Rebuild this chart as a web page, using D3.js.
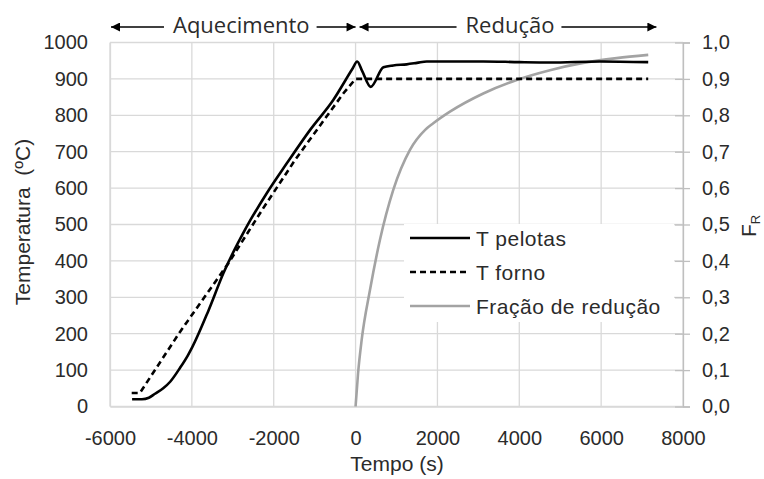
<!DOCTYPE html>
<html>
<head>
<meta charset="utf-8">
<script src="https://cdn.jsdelivr.net/npm/d3@7"></script>
<style>
  body { margin: 0; background: #fff; }
  text { font-family: "Liberation Sans", Arial, sans-serif; fill: #2b2b2b; }
</style>
</head>
<body>
<svg id="chart" width="764" height="479"></svg>
<script>
// Pellet temperature (ºC) over time (s)
const pelotasTempo = [-5460, -5220, -5050, -4900, -4700, -4530, -4290, -4100, -3990, -3600, -3230, -2660, -2170, -1680, -1110, -545, -80, 40, 160, 370, 680, 920, 1250, 1500, 1740, 2500, 3120, 4000, 4750, 5970, 7150];
const pelotasTemp  = [20, 20, 24, 35, 50, 68, 106, 140, 163, 262, 366, 494, 586, 668, 760, 842, 927, 948, 922, 878, 932, 937, 940, 944, 948, 948, 948, 946, 945, 948, 946];

// Furnace temperature (ºC)
const fornoTempo = [-5470, -5270, -4290, -3110, -2255, -1480, -300, 0, 7150];
const fornoTemp  = [37, 37, 205, 393, 545, 677, 860, 900, 900];

// Reduction fraction F_R
const fracaoTempo = [0, 60, 149, 352, 596, 921, 1329, 1700, 1898, 2306, 3120, 3935, 4749, 5563, 6379, 7151];
const fracaoValor = [0, 0.09, 0.183, 0.32, 0.458, 0.595, 0.705, 0.76, 0.778, 0.81, 0.86, 0.897, 0.924, 0.944, 0.957, 0.966];

// Axis ticks
const xTicks = [-6000, -4000, -2000, 0, 2000, 4000, 6000, 8000];
const yTicks = [0, 100, 200, 300, 400, 500, 600, 700, 800, 900, 1000];
const fTicks = [0, 0.1, 0.2, 0.3, 0.4, 0.5, 0.6, 0.7, 0.8, 0.9, 1.0];

// Process phases shown above the plot
const fases = ["Aquecimento", "Redução"];
const faseInicio = [-6000, 0];
const faseFim = [0, 7350];

// Legend entries
const legendaNomes = ["T pelotas", "T forno", "Fração de redução"];

const svg = d3.select("#chart");
const mLeft = 110, mRight = 683, mTop = 42.5, mBottom = 406.5;

const x = d3.scaleLinear().domain([-6000, 8000]).range([mLeft, mRight]);
const y = d3.scaleLinear().domain([0, 1000]).range([mBottom, mTop]);
const yF = d3.scaleLinear().domain([0, 1]).range([mBottom, mTop]);

const gridColor = "#d9d9d9";

// Gridlines
const grid = svg.append("g");
grid.selectAll("line.h").data(yTicks).join("line").attr("class", "h")
  .attr("x1", mLeft).attr("x2", mRight)
  .attr("y1", d => y(d)).attr("y2", d => y(d))
  .attr("stroke", gridColor).attr("stroke-width", 1.3);
grid.selectAll("line.v").data(xTicks).join("line").attr("class", "v")
  .attr("y1", mTop).attr("y2", mBottom)
  .attr("x1", d => x(d)).attr("x2", d => x(d))
  .attr("stroke", gridColor).attr("stroke-width", 1.3);

// Left axis labels
const yAxis = d3.axisLeft(y).tickValues(yTicks).tickSize(0).tickPadding(22).tickFormat(d3.format("d"));
const gy = svg.append("g").attr("transform", `translate(${mLeft},0)`).call(yAxis);
gy.select(".domain").attr("stroke", gridColor).attr("stroke-width", 1.3);
gy.selectAll("text").style("font-size", "20px").attr("fill", "#2b2b2b");

// Bottom axis labels (plain hyphen for negatives)
const fmtX = v => String(v);
const xAxis = d3.axisBottom(x).tickValues(xTicks).tickSize(0).tickPadding(24).tickFormat(fmtX);
const gx = svg.append("g").attr("transform", `translate(0,${mBottom})`).call(xAxis);
gx.select(".domain").attr("stroke", gridColor).attr("stroke-width", 1.3);
gx.selectAll("text").style("font-size", "20px").attr("fill", "#2b2b2b");

// Right axis (reduction fraction)
const fmtF = v => d3.format(".1f")(v).replace(".", ",");
const fAxis = d3.axisRight(yF).tickValues(fTicks).tickSize(7).tickPadding(12).tickFormat(fmtF);
const gf = svg.append("g").attr("transform", `translate(${mRight},0)`).call(fAxis);
gf.select(".domain").attr("stroke", "#bfbfbf").attr("stroke-width", 1.3);
gf.selectAll(".tick line").attr("x1", -8).attr("stroke", "#bfbfbf").attr("stroke-width", 1.3);
gf.selectAll("text").style("font-size", "20px").attr("fill", "#2b2b2b");

// Series
const linha = (xs, ys, sy, curve) => d3.line().curve(curve)
  .x((d, i) => x(xs[i])).y((d, i) => sy(ys[i]))(xs);

svg.append("path")
  .attr("d", linha(fracaoTempo, fracaoValor, yF, d3.curveMonotoneX))
  .attr("fill", "none").attr("stroke", "#a3a3a3").attr("stroke-width", 2.6);

svg.append("path")
  .attr("d", linha(fornoTempo, fornoTemp, y, d3.curveLinear))
  .attr("fill", "none").attr("stroke", "#000").attr("stroke-width", 2.6)
  .attr("stroke-dasharray", "6,4");

svg.append("path")
  .attr("d", linha(pelotasTempo, pelotasTemp, y, d3.curveMonotoneX))
  .attr("fill", "none").attr("stroke", "#000").attr("stroke-width", 2.6)
  .attr("stroke-linejoin", "round");

// Legend
const leg = svg.append("g");
leg.append("rect").attr("x", 404).attr("y", 224).attr("width", 270).attr("height", 98).attr("fill", "#fff");
const legEstilo = [
  { stroke: "#000", dash: null },
  { stroke: "#000", dash: "6,4" },
  { stroke: "#a3a3a3", dash: null }
];
legendaNomes.forEach((nome, i) => {
  const yy = 238 + i * 34;
  leg.append("line").attr("x1", 410).attr("x2", 470).attr("y1", yy).attr("y2", yy)
    .attr("stroke", legEstilo[i].stroke).attr("stroke-width", 2.6)
    .attr("stroke-dasharray", legEstilo[i].dash);
  leg.append("text").attr("x", 476).attr("y", yy).attr("dy", "0.36em")
    .style("font-size", "21px").style("letter-spacing", "0.5px").text(nome);
});

// Axis titles
svg.append("text").attr("x", 397).attr("y", 471).attr("text-anchor", "middle")
  .style("font-size", "21px").text("Tempo (s)");
svg.append("text").attr("transform", "translate(30,222) rotate(-90)").attr("text-anchor", "middle")
  .style("font-size", "21px").text("Temperatura\u00a0\u00a0(ºC)");
const fr = svg.append("text").attr("transform", "translate(756,226) rotate(-90)").attr("text-anchor", "middle")
  .style("font-size", "21px");
fr.append("tspan").text("F");
fr.append("tspan").attr("dy", 4).style("font-size", "13px").text("R");

// Phase arrows above the plot
const defs = svg.append("defs");
defs.append("marker").attr("id", "seta").attr("viewBox", "0 0 10 10")
  .attr("refX", 10).attr("refY", 5).attr("markerWidth", 12).attr("markerHeight", 9)
  .attr("markerUnits", "userSpaceOnUse").attr("orient", "auto-start-reverse")
  .append("path").attr("d", "M0,0 L10,5 L0,10 Z").attr("fill", "#000");

const arrowY = 27;
fases.forEach((nome, i) => {
  const x1 = x(faseInicio[i]) + (i === 0 ? 1 : 4);
  const x2 = x(faseFim[i]);
  const cx = (x1 + x2) / 2 + (i === 0 ? 8 : 2);
  const t = svg.append("text").attr("x", cx).attr("y", 33).attr("text-anchor", "middle")
    .style("font-family", "'Open Sans', sans-serif").style("font-size", "22px").text(nome);
  const w = t.node().getComputedTextLength();
  svg.append("line").attr("x1", cx - w / 2 - 9).attr("x2", x1).attr("y1", arrowY).attr("y2", arrowY)
    .attr("stroke", "#000").attr("stroke-width", 1.6).attr("marker-end", "url(#seta)");
  svg.append("line").attr("x1", cx + w / 2 + 7).attr("x2", x2).attr("y1", arrowY).attr("y2", arrowY)
    .attr("stroke", "#000").attr("stroke-width", 1.6).attr("marker-end", "url(#seta)");
});
</script>
</body>
</html>
